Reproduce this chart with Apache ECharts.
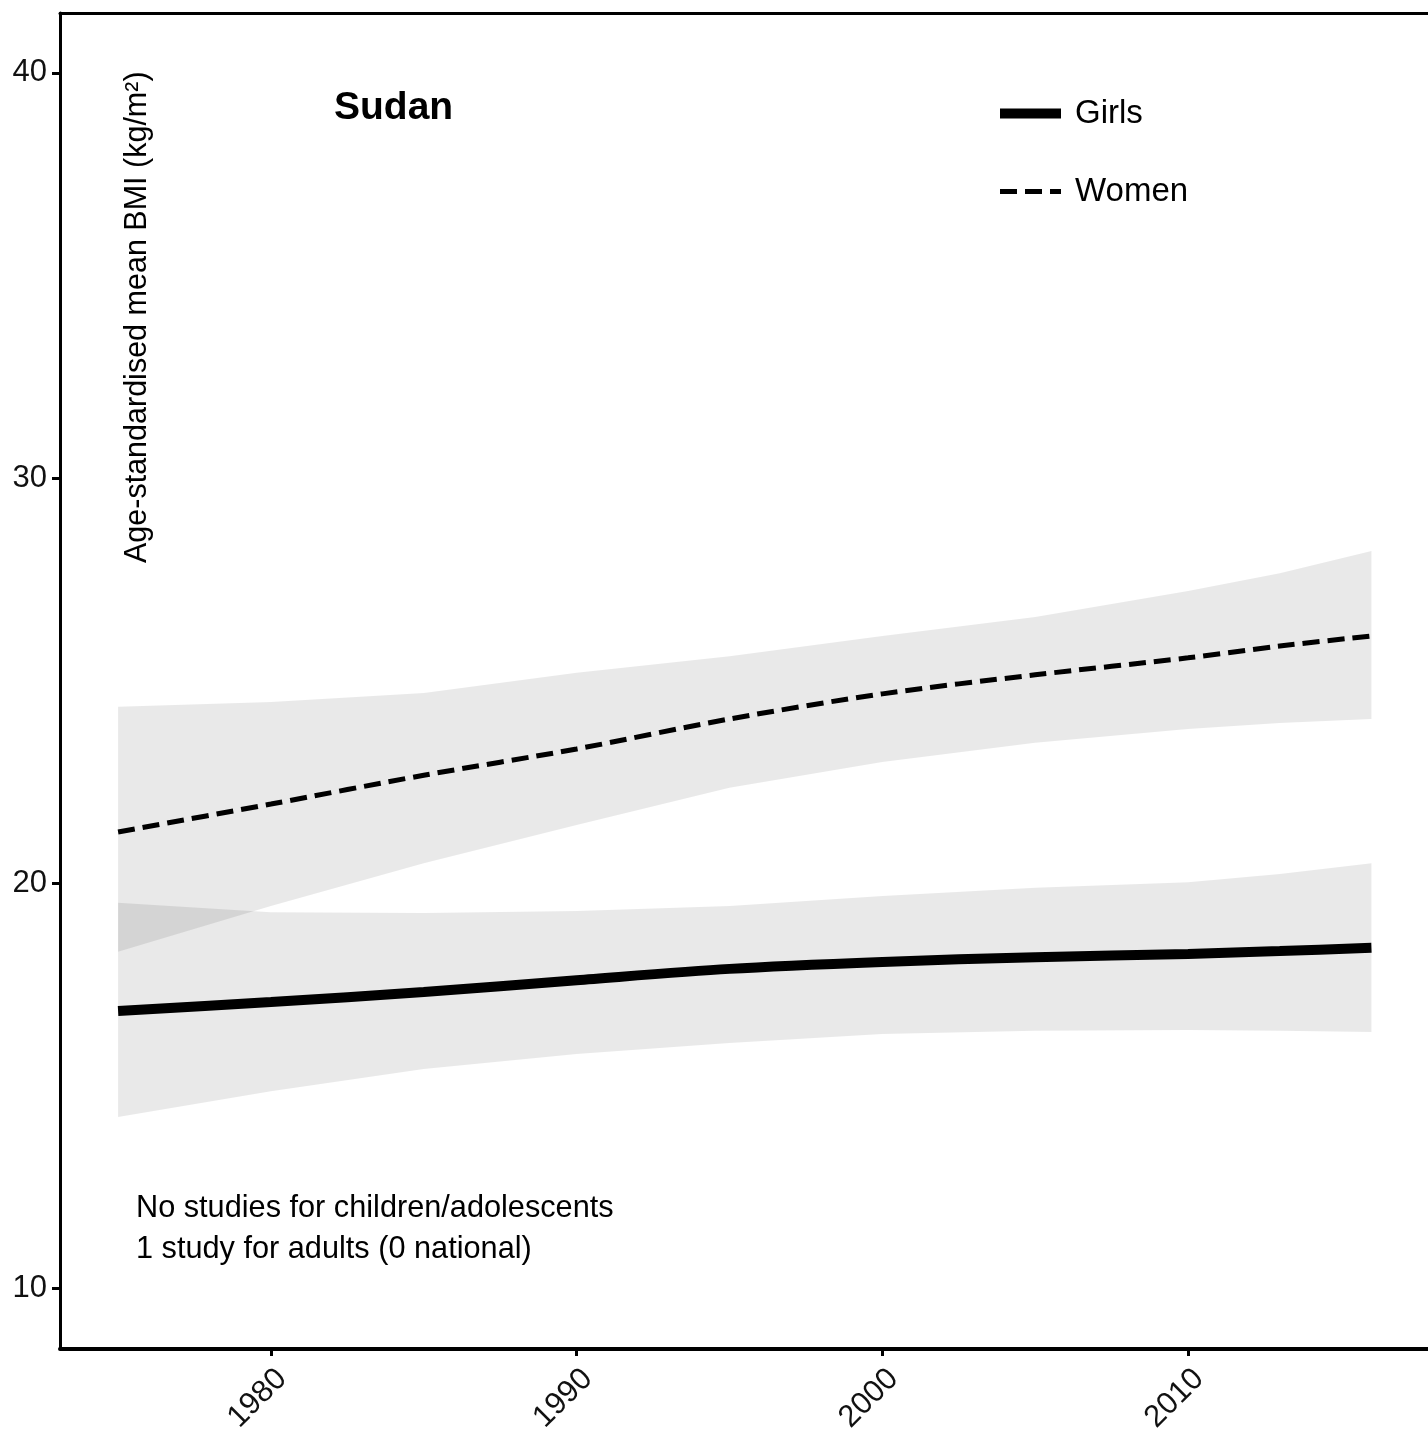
<!DOCTYPE html>
<html>
<head>
<meta charset="utf-8">
<script src="https://cdn.jsdelivr.net/npm/echarts@6/dist/echarts.min.js"></script>
<style>
html,body{margin:0;padding:0;background:#fff;}
#chart{width:1428px;height:1448px;}
</style>
</head>
<body>
<div id="chart"></div>
<script>
const years = [1975, 1980, 1985, 1990, 1995, 2000, 2005, 2010, 2013, 2016];
const womenMean  = [21.26, 21.95, 22.66, 23.31, 24.05, 24.67, 25.14, 25.56, 25.85, 26.10];
const womenUpper = [24.35, 24.47, 24.69, 25.19, 25.60, 26.10, 26.57, 27.21, 27.65, 28.20];
const womenLower = [18.30, 19.43, 20.49, 21.43, 22.35, 22.99, 23.46, 23.80, 23.95, 24.05];
const girlsMean  = [16.84, 17.06, 17.31, 17.60, 17.88, 18.05, 18.17, 18.25, 18.32, 18.40];
const girlsUpper = [19.51, 19.28, 19.26, 19.31, 19.43, 19.68, 19.88, 20.02, 20.22, 20.49];
const girlsLower = [14.22, 14.86, 15.41, 15.78, 16.05, 16.27, 16.35, 16.37, 16.35, 16.32];
const xTicks = [1980, 1990, 2000, 2010];
const yTicks = [10, 20, 30, 40];
const titleText = 'Sudan';
const yAxisTitle = 'Age-standardised mean BMI (kg/m²)';
const noteLines = ['No studies for children/adolescents', '1 study for adults (0 national)'];

const FONT = '"Liberation Sans", Arial, Helvetica, sans-serif';
const pair = (arr) => years.map((y, i) => [y, arr[i]]);
const bandFill = 'rgba(0,0,0,0.086)';

function bandSeries(name, upper, lower) {
  return {
    name: name, type: 'custom', silent: true, z: 1,
    data: years.map((y, i) => [y, lower[i], upper[i]]),
    encode: {x: 0, y: [1, 2]},
    renderItem: function (params, api) {
      if (params.dataIndex !== 0) return null;
      const pts = [];
      for (let i = 0; i < years.length; i++) pts.push(api.coord([years[i], upper[i]]));
      for (let i = years.length - 1; i >= 0; i--) pts.push(api.coord([years[i], lower[i]]));
      return {type: 'polygon', shape: {points: pts}, style: {fill: bandFill, stroke: null}};
    }
  };
}

const chart = echarts.init(document.getElementById('chart'), null, {renderer: 'canvas'});
chart.setOption({
  backgroundColor: '#fff',
  animation: false,
  grid: {left: 60, right: 0, top: 13, bottom: 99, containLabel: false},
  xAxis: [{
    type: 'value', min: 1973.1, max: 2017.85, position: 'bottom',
    axisLine: {show: true, onZero: false, lineStyle: {color: '#000', width: 4}},
    axisTick: {show: true, length: 7, lineStyle: {color: '#000', width: 3}, customValues: xTicks},
    axisLabel: {show: true, rotate: 45, margin: 14, fontSize: 31, color: '#111', fontFamily: FONT,
      align: 'right', verticalAlign: 'top',
      customValues: xTicks, formatter: (v) => String(v)},
    splitLine: {show: false}
  }, {
    type: 'value', min: 1973.1, max: 2017.85, position: 'top',
    axisLine: {show: true, onZero: false, lineStyle: {color: '#000', width: 3}},
    axisTick: {show: false}, axisLabel: {show: false}, splitLine: {show: false}
  }],
  yAxis: {
    type: 'value', min: 8.495, max: 41.48,
    axisLine: {show: true, onZero: false, lineStyle: {color: '#000', width: 3}},
    axisTick: {show: true, length: 8, lineStyle: {color: '#000', width: 3}, customValues: yTicks},
    axisLabel: {show: true, margin: 13, fontSize: 31, color: '#111', fontFamily: FONT,
      customValues: yTicks, formatter: (v) => String(v)},
    splitLine: {show: false}
  },
  legend: {
    data: ['Girls', 'Women'],
    orient: 'vertical', left: 995, top: 97,
    itemWidth: 61, itemHeight: 30, itemGap: 45,
    padding: 0,
    itemStyle: {opacity: 0},
    lineStyle: {width: 'inherit', type: 'inherit'},
    textStyle: {fontSize: 33, color: '#000', fontFamily: FONT, padding: [0, 0, 0, 9]}
  },
  graphic: [
    {type: 'text', x: 334, y: 108, style: {text: titleText, font: 'bold 39px ' + FONT, fill: '#000', textVerticalAlign: 'middle'}},
    {type: 'text', x: 138, y: 563, rotation: Math.PI / 2,
      style: {text: yAxisTitle, font: '30.5px ' + FONT, fill: '#000', textAlign: 'left', textVerticalAlign: 'middle'}},
    {type: 'text', x: 136, y: 1209, style: {text: noteLines[0], font: '30.7px ' + FONT, fill: '#000', textVerticalAlign: 'middle'}},
    {type: 'text', x: 136, y: 1250, style: {text: noteLines[1], font: '30.7px ' + FONT, fill: '#000', textVerticalAlign: 'middle'}}
  ],
  series: [
    bandSeries('womenBand', womenUpper, womenLower),
    bandSeries('girlsBand', girlsUpper, girlsLower),
    {name: 'Girls', type: 'line', data: pair(girlsMean), symbol: 'none', smooth: 0.3,
      lineStyle: {color: '#000', width: 10, cap: 'butt'}, itemStyle: {color: '#000'}, z: 3},
    {name: 'Women', type: 'line', data: pair(womenMean), symbol: 'none', smooth: 0.3,
      lineStyle: {color: '#000', width: 5, type: [17, 8], cap: 'butt'}, itemStyle: {color: '#000'}, z: 3}
  ]
});
</script>
</body>
</html>
